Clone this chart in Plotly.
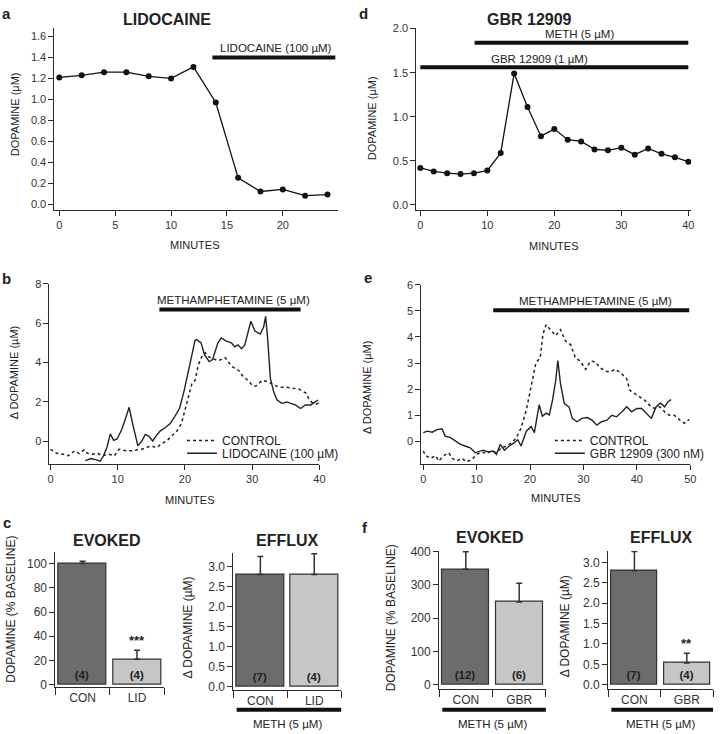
import plotly.graph_objects as go

W, H = 722, 734
FONT = "Liberation Sans, Arial, sans-serif"
INK = "#2a2a2a"

# ---------------- data ----------------
# panel a: lidocaine
a_minutes = [0, 2, 4, 6, 8, 10, 12, 14, 16, 18, 20, 22, 24]
a_dopamine = [1.21, 1.23, 1.26, 1.26, 1.22, 1.20, 1.31, 0.97, 0.25, 0.12, 0.14, 0.08, 0.09]
a_lido_on = (13.7, 24.7)

# panel d: GBR 12909
d_minutes = [0, 2, 4, 6, 8, 10, 12, 14, 16, 18, 20, 22, 24, 26, 28, 30, 32, 34, 36, 38, 40]
d_dopamine = [0.42, 0.38, 0.36, 0.35, 0.36, 0.39, 0.59, 1.49, 1.11, 0.78, 0.86, 0.74, 0.72,
              0.63, 0.62, 0.65, 0.57, 0.64, 0.58, 0.54, 0.49]
d_meth_on = (8.1, 40.0)
d_gbr_on = (0.0, 40.0)

# panel b: METH efflux, control vs lidocaine
b_ctrl_t = [0, 0.9, 1.9, 2.6, 3.6, 4.3, 5.0, 5.5, 6.3, 7.0, 7.7, 8.7, 9.5, 10.2, 11.2, 12.2, 12.9,
            13.9, 14.9, 15.8, 16.6, 17.3, 18.0, 18.8, 19.5, 20.0, 20.5, 21.0, 21.5, 22.0, 22.5,
            23.0, 23.5, 24.0, 25.0, 26.0, 26.5, 27.0, 27.5, 28.0, 28.5, 29.0, 29.5, 30.0, 30.5,
            31.0, 31.5, 32.0, 32.5, 33.0, 34.0, 35.0, 36.0, 37.0, 37.5, 38.0, 38.5, 39.0, 39.5, 40.0]
b_ctrl_v = [-0.40, -0.60, -0.65, -0.73, -0.48, -0.62, -0.43, -0.60, -0.65, -0.60, -0.73, -0.65,
            -0.73, -0.40, -0.48, -0.48, -0.43, -0.37, -0.23, -0.32, -0.10, 0.02, 0.27, 0.52, 0.93,
            1.60, 2.30, 2.90, 3.10, 3.90, 4.30, 4.50, 4.30, 4.20, 4.10, 4.25, 4.00, 3.80, 3.70,
            3.60, 3.35, 3.20, 3.05, 2.85, 2.80, 2.95, 3.10, 3.05, 3.00, 2.90, 2.75, 2.75, 2.70,
            2.65, 2.55, 2.45, 2.10, 1.95, 1.90, 1.95]
b_lido_t = [5.2, 6.0, 6.7, 7.4, 7.9, 8.4, 8.9, 9.4, 9.9, 10.6, 11.1, 11.7, 12.2, 13.0, 13.6, 14.1,
            14.6, 15.2, 15.7, 16.3, 17.0, 17.8, 18.5, 19.2, 19.9, 20.7, 21.5, 21.7, 22.4, 22.9,
            23.6, 24.1, 24.9, 25.4, 26.1, 26.9, 27.4, 27.9, 28.4, 28.9, 29.4, 29.8, 30.4, 31.2,
            31.7, 32.0, 32.3, 32.7, 33.2, 33.7, 34.4, 35.2, 35.7, 36.4, 37.2, 37.9, 38.7, 39.4, 39.8]
b_lido_v = [-0.98, -0.87, -0.93, -1.00, -0.73, -0.30, 0.38, 0.05, 0.12, 0.60, 1.10, 1.73, 0.93,
            -0.23, 0.02, 0.35, 0.27, 0.02, 0.27, 0.52, 0.68, 0.90, 1.27, 1.68, 2.60, 3.80, 5.13,
            5.18, 5.00, 4.40, 4.05, 4.15, 5.00, 5.25, 5.10, 5.00, 4.80, 4.90, 4.70, 4.90, 5.60,
            6.10, 5.60, 5.45, 5.80, 6.35, 5.20, 3.20, 2.50, 2.10, 1.93, 2.00, 1.93, 1.85, 1.67,
            1.85, 1.85, 2.00, 2.10]
b_meth_on = (16.2, 37.2)

# panel e: METH efflux, control vs GBR 12909
e_ctrl_t = [0, 0.43, 1.36, 2.3, 2.9, 3.8, 4.8, 5.4, 6.3, 7.2, 8.1, 9.1, 10.0, 11.0, 11.9, 12.8,
            13.7, 14.6, 15.6, 16.5, 17.4, 18.3, 19.3, 20.2, 21.1, 21.9, 22.4, 23.0, 23.9, 24.8,
            25.7, 26.6, 27.6, 28.5, 29.4, 30.4, 31.3, 32.2, 33.1, 34.1, 35.0, 35.9, 36.9, 38.1,
            38.7, 39.6, 40.5, 41.5, 42.4, 43.3, 44.3, 45.2, 46.1, 47.0, 48.0, 48.9, 49.8]
e_ctrl_v = [-0.37, -0.55, -0.65, -0.55, -0.75, -0.55, -0.44, -0.65, -0.75, -0.65, -0.78, -0.70,
            -0.50, -0.41, -0.46, -0.37, -0.44, -0.25, -0.18, -0.06, 0.13, 0.50, 1.20, 2.08, 3.02,
            3.20, 4.10, 4.47, 4.28, 4.05, 4.28, 3.85, 3.70, 3.20, 3.07, 2.76, 3.07, 3.05, 2.82,
            2.69, 2.66, 2.76, 2.64, 2.39, 1.95, 1.82, 1.70, 1.57, 1.38, 1.26, 1.32, 1.13, 1.00,
            1.00, 0.82, 0.69, 0.84]
e_gbr_t = [0, 0.74, 1.67, 2.6, 3.5, 4.1, 5.1, 6.0, 6.9, 7.8, 8.8, 9.7, 10.3, 11.2, 12.2, 13.1,
           13.7, 14.4, 15.2, 16.1, 17.0, 17.7, 18.3, 19.3, 20.2, 20.8, 21.7, 22.3, 23.0, 23.6,
           24.2, 24.8, 25.2, 25.7, 26.4, 27.3, 27.9, 28.8, 29.7, 30.7, 31.6, 32.5, 33.4, 34.4,
           35.3, 36.2, 37.2, 38.1, 39.0, 40.0, 40.9, 41.8, 42.7, 43.6, 44.4, 45.2, 45.8, 46.4]
e_gbr_v = [0.33, 0.39, 0.35, 0.45, 0.48, 0.20, 0.14, 0.01, -0.11, -0.18, -0.25, -0.44, -0.41,
           -0.34, -0.41, -0.37, -0.50, -0.12, -0.34, -0.18, -0.06, 0.06, -0.18, 0.39, 0.57, 0.33,
           1.40, 0.96, 1.08, 1.01, 1.58, 2.33, 3.09, 2.20, 1.45, 1.32, 0.88, 0.75, 0.88, 0.91,
           0.81, 0.62, 0.75, 0.81, 1.00, 0.94, 1.13, 1.32, 1.13, 1.26, 1.26, 1.07, 0.88, 1.32,
           1.47, 1.32, 1.51, 1.60]
e_meth_on = (13.1, 49.8)

# panels c and f: bar summaries
c_groups = ["CON", "LID"]
c_evoked = [100, 21]
c_evoked_err = [2, 7.5]
c_evoked_n = ["(4)", "(4)"]
c_evoked_sig = ["", "***"]
c_efflux = [2.8, 2.8]
c_efflux_err = [0.45, 0.52]
c_efflux_n = ["(7)", "(4)"]

f_groups = ["CON", "GBR"]
f_evoked = [347, 249]
f_evoked_err = [53, 56]
f_evoked_n = ["(12)", "(6)"]
f_efflux = [2.8, 0.53]
f_efflux_err = [0.47, 0.24]
f_efflux_n = ["(7)", "(4)"]
f_efflux_sig = ["", "**"]

for t, v in [(b_ctrl_t, b_ctrl_v), (b_lido_t, b_lido_v), (e_ctrl_t, e_ctrl_v), (e_gbr_t, e_gbr_v)]:
    assert len(t) == len(v), (len(t), len(v))

# ---------------- helpers ----------------
def px(x):
    return x / W

def py(y):
    return 1 - y / H

def xdom(x0, x1):
    return [px(x0), px(x1)]

def ydom(top, bottom):
    return [py(bottom), py(top)]

axis_style = dict(showline=True, linecolor=INK, linewidth=1, ticks="outside", ticklen=5,
                  tickwidth=1, tickcolor=INK, showgrid=False, zeroline=False,
                  tickfont=dict(family=FONT, size=11, color="#333"))

fig = go.Figure()
annotations = []
shapes = []

def ann(text, x, y, size=11, bold=False, angle=0, xanchor="center", **kw):
    annotations.append(dict(text=f"<b>{text}</b>" if bold else text, x=x, y=y,
                            xref=kw.pop("xref", "paper"), yref=kw.pop("yref", "paper"),
                            showarrow=False, textangle=angle, xanchor=xanchor,
                            yanchor=kw.pop("yanchor", "middle"),
                            font=dict(family=FONT, size=size, color="#222"), **kw))

def drug_bar(xa, ya, span, level, label, label_x, label_y, size=11):
    shapes.append(dict(type="line", xref=xa, yref=ya, x0=span[0], x1=span[1], y0=level, y1=level,
                       line=dict(color="#111", width=4)))
    ann(label, label_x, label_y, size=size, xref=xa, yref=ya)

# ---------------- panel a ----------------
fig.add_trace(go.Scatter(x=a_minutes, y=a_dopamine, mode="lines+markers", xaxis="x", yaxis="y",
                         line=dict(color="#111", width=1.3), marker=dict(color="#111", size=6),
                         showlegend=False))
# ---------------- panel d ----------------
fig.add_trace(go.Scatter(x=d_minutes, y=d_dopamine, mode="lines+markers", xaxis="x2", yaxis="y2",
                         line=dict(color="#111", width=1.3), marker=dict(color="#111", size=6),
                         showlegend=False))
# ---------------- panel b ----------------
fig.add_trace(go.Scatter(x=b_ctrl_t, y=b_ctrl_v, mode="lines", xaxis="x3", yaxis="y3",
                         name="CONTROL", legend="legend",
                         line=dict(color="#222", width=1.5, dash="dot")))
fig.add_trace(go.Scatter(x=b_lido_t, y=b_lido_v, mode="lines", xaxis="x3", yaxis="y3",
                         name="LIDOCAINE (100 µM)", legend="legend2",
                         line=dict(color="#222", width=1.4)))
# ---------------- panel e ----------------
fig.add_trace(go.Scatter(x=e_ctrl_t, y=e_ctrl_v, mode="lines", xaxis="x4", yaxis="y4",
                         name="CONTROL", legend="legend3",
                         line=dict(color="#222", width=1.5, dash="dot")))
fig.add_trace(go.Scatter(x=e_gbr_t, y=e_gbr_v, mode="lines", xaxis="x4", yaxis="y4",
                         name="GBR 12909 (300 nM)", legend="legend4",
                         line=dict(color="#222", width=1.4)))

# ---------------- bar panels ----------------
BAR_COLORS = ["#6c6c6c", "#c6c6c6"]

def bar_panel(xa, ya, vals, errs, ns):
    fig.add_trace(go.Bar(x=[0, 1], y=vals, xaxis=xa, yaxis=ya, width=0.88,
                         marker=dict(color=BAR_COLORS, line=dict(color="#333", width=1.2)),
                         error_y=dict(type="data", symmetric=False, array=errs,
                                      arrayminus=[0] * len(errs), color="#333",
                                      thickness=1.5, width=3),
                         text=ns, textposition="inside", insidetextanchor="start", textangle=0,
                         constraintext="none",
                         insidetextfont=dict(family=FONT, size=11.5, color="#222", weight="bold"),
                         showlegend=False))

bar_panel("x5", "y5", c_evoked, c_evoked_err, c_evoked_n)
bar_panel("x6", "y6", c_efflux, c_efflux_err, c_efflux_n)
bar_panel("x7", "y7", f_evoked, f_evoked_err, f_evoked_n)
bar_panel("x8", "y8", f_efflux, f_efflux_err, f_efflux_n)

def sig_marks(xa, ya, vals, errs, sigs, offset):
    for i, s in enumerate(sigs):
        if s:
            ann(s, i, vals[i] + errs[i] + offset, size=13, bold=True, xref=xa, yref=ya)

sig_marks("x5", "y5", c_evoked, c_evoked_err, c_evoked_sig, 8)
sig_marks("x8", "y8", f_efflux, f_efflux_err, f_efflux_sig, 0.24)

# ---------------- layout axes ----------------
layout = dict(width=W, height=H, margin=dict(l=0, r=0, t=0, b=0),
              paper_bgcolor="white", plot_bgcolor="white", bargap=0,
              font=dict(family=FONT, color="#222"))

layout["xaxis"] = dict(axis_style, domain=xdom(53, 340), range=[-0.44, 24.96],
                       tickvals=[0, 5, 10, 15, 20], anchor="y")
layout["yaxis"] = dict(axis_style, domain=ydom(22, 207), range=[-0.056, 1.685],
                       tickvals=[0, 0.2, 0.4, 0.6, 0.8, 1.0, 1.2, 1.4, 1.6], tickformat=".1f",
                       anchor="x")
layout["xaxis2"] = dict(axis_style, domain=xdom(419, 697), range=[-0.59, 40.44],
                        tickvals=[0, 10, 20, 30, 40], anchor="y2")
layout["yaxis2"] = dict(axis_style, domain=ydom(22, 207), range=[-0.056, 2.01],
                        tickvals=[0, 0.5, 1.0, 1.5, 2.0], tickformat=".1f", anchor="x2")
layout["xaxis3"] = dict(axis_style, domain=xdom(48, 321), range=[-0.15, 40],
                        tickvals=[0, 10, 20, 30, 40], anchor="y3")
layout["yaxis3"] = dict(axis_style, domain=ydom(282, 465), range=[-1.15, 8],
                        tickvals=[0, 2, 4, 6, 8], anchor="x3")
layout["xaxis4"] = dict(axis_style, domain=xdom(424, 696), range=[-0.37, 50],
                        tickvals=[0, 10, 20, 30, 40, 50], anchor="y4")
layout["yaxis4"] = dict(axis_style, domain=ydom(283, 465), range=[-0.87, 6],
                        tickvals=[0, 1, 2, 3, 4, 5, 6], anchor="x4")

def bar_xaxis(dom, groups, ya):
    return dict(axis_style, domain=dom, range=[-0.5, 1.5], tickvals=[0, 1], ticktext=groups,
                ticks="", ticklabelstandoff=0, anchor=ya,
                tickfont=dict(family=FONT, size=12, color="#333"),
                minor=dict(tickvals=[-0.5, 0.5, 1.5], ticks="outside", ticklen=7,
                           tickcolor=INK, tickwidth=1, showgrid=False))

layout["xaxis5"] = bar_xaxis(xdom(54, 164), c_groups, "y5")
layout["yaxis5"] = dict(axis_style, domain=ydom(554, 691), range=[-1.6, 109.8],
                        tickvals=[0, 20, 40, 60, 80, 100], anchor="x5",
                        tickfont=dict(family=FONT, size=12, color="#333"))
layout["xaxis6"] = bar_xaxis(xdom(234, 343), c_groups, "y6")
layout["yaxis6"] = dict(axis_style, domain=ydom(555, 694), range=[-0.074, 3.345],
                        tickvals=[0, 0.5, 1.0, 1.5, 2.0, 2.5, 3.0], tickformat=".1f", anchor="x6",
                        tickfont=dict(family=FONT, size=12, color="#333"))
layout["xaxis7"] = bar_xaxis(xdom(442, 550), f_groups, "y7")
layout["yaxis7"] = dict(axis_style, domain=ydom(553, 693), range=[-11.85, 403],
                        tickvals=[0, 100, 200, 300, 400], anchor="x7",
                        tickfont=dict(family=FONT, size=12, color="#333"))
layout["xaxis8"] = bar_xaxis(xdom(613, 719), f_groups, "y8")
layout["yaxis8"] = dict(axis_style, domain=ydom(553, 693), range=[-0.097, 3.29],
                        tickvals=[0, 0.5, 1.0, 1.5, 2.0, 2.5, 3.0], tickformat=".1f", anchor="x8",
                        tickfont=dict(family=FONT, size=12, color="#333"))

# legends
leg_common = dict(bgcolor="rgba(0,0,0,0)", borderwidth=0, itemwidth=30, xanchor="left",
                  yanchor="middle", font=dict(family=FONT, size=12, color="#222"),
                  tracegroupgap=0)
layout["legend"] = dict(leg_common, x=px(182), y=py(441))
layout["legend2"] = dict(leg_common, x=px(182), y=py(454))
layout["legend3"] = dict(leg_common, x=px(554), y=py(441))
layout["legend4"] = dict(leg_common, x=px(554), y=py(454))

# ---------------- drug application bars ----------------
drug_bar("x", "y", a_lido_on, 1.40, "LIDOCAINE (100 µM)", 19.4, 1.49, size=11.5)
drug_bar("x2", "y2", d_meth_on, 1.84, "METH (5 µM)", 23.7, 1.94, size=11.5)
drug_bar("x2", "y2", d_gbr_on, 1.56, "GBR 12909 (1 µM)", 17.8, 1.66, size=11.5)
drug_bar("x3", "y3", b_meth_on, 6.7, "METHAMPHETAMINE (5 µM)", 27.2, 7.2, size=11.5)
drug_bar("x4", "y4", e_meth_on, 5.02, "METHAMPHETAMINE (5 µM)", 32.2, 5.36, size=11.5)

# METH bars under bar charts
for xa, ycen, ylab in [("x6", 714.5, 728.5), ("x7", 714.5, 728.5), ("x8", 714.5, 728.5)]:
    shapes.append(dict(type="line", xref=f"{xa} domain", yref="paper", x0=0.03, x1=1.0,
                       y0=py(ycen), y1=py(ycen), line=dict(color="#111", width=4)))
    ann("METH (5 µM)", 0.5, py(ylab), size=11.5, xref=f"{xa} domain")

# ---------------- text: titles, axis titles, panel letters ----------------
ann("LIDOCAINE", px(167), py(14), size=16, bold=True)
ann("GBR 12909", px(533), py(14), size=16, bold=True)
ann("EVOKED", px(106), py(543), size=16, bold=True)
ann("EFFLUX", px(289), py(543), size=16, bold=True)
ann("EVOKED", px(493), py(540), size=16, bold=True)
ann("EFFLUX", px(667), py(540), size=16, bold=True)

ann("a", px(5), py(8), size=15, bold=True)
ann("d", px(366), py(8), size=15, bold=True)
ann("b", px(5), py(277), size=15, bold=True)
ann("e", px(370), py(276), size=15, bold=True)
ann("c", px(5), py(524), size=15, bold=True)
ann("f", px(367), py(529), size=15, bold=True)

ann("MINUTES", px(195), py(243), size=11)
ann("MINUTES", px(558), py(244), size=11)
ann("MINUTES", px(190), py(502), size=11)
ann("MINUTES", px(560), py(499), size=11)

ann("DOPAMINE (µM)", px(13), py(110), size=11, angle=-90)
ann("DOPAMINE (µM)", px(374), py(114), size=11, angle=-90)
ann("Δ DOPAMINE (µM)", px(13), py(372), size=11, angle=-90)
ann("Δ DOPAMINE (µM)", px(369), py(387), size=11, angle=-90)
ann("DOPAMINE (% BASELINE)", px(9), py(612), size=12, angle=-90)
ann("Δ DOPAMINE (µM)", px(188), py(631), size=12, angle=-90)
ann("DOPAMINE (% BASELINE)", px(393), py(621), size=12, angle=-90)
ann("Δ DOPAMINE (µM)", px(569), py(630), size=12, angle=-90)

layout["annotations"] = annotations
layout["shapes"] = shapes
fig.update_layout(**layout)
fig.write_html("out.html", config={"displayModeBar": False},
               post_script="document.body.style.margin='0px';document.body.style.overflow='hidden';")
